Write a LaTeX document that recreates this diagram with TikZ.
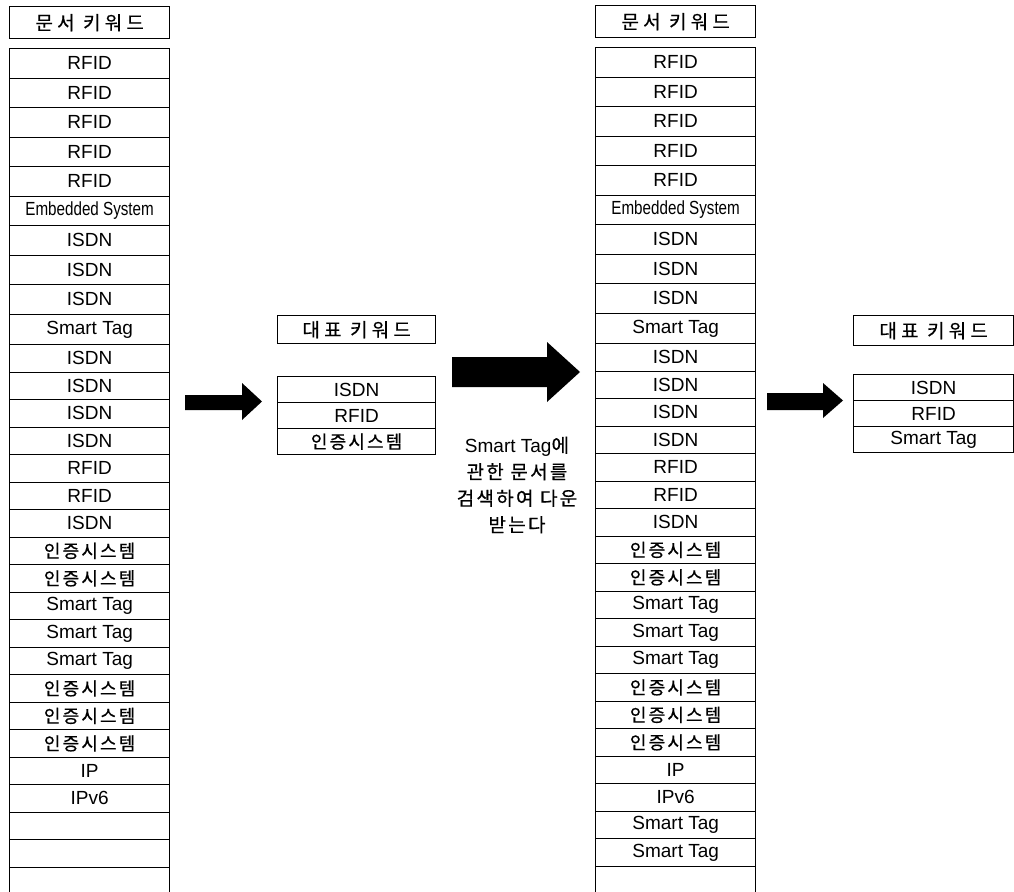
\documentclass[tikz,border=0pt]{standalone}
\usepackage{fontspec}
\setmainfont{Liberation Sans}
\newfontfamily\kr{Noto Sans CJK KR}[LetterSpace=12,FakeBold=0.6]
\newfontfamily\krwide{Noto Sans CJK KR}[LetterSpace=22,FakeBold=0.6]
\newfontfamily\narrow{Liberation Sans}[FakeStretch=0.8]
\newcommand{\ko}[1]{{\kr\fontsize{18}{18}\selectfont #1}}
\newcommand{\kh}[1]{{\krwide\fontsize{19}{19}\selectfont #1}}
\newcommand{\inj}{\ko{인증시스템}}
\newcommand{\emb}{{\narrow Embedded System}}

\begin{document}
\begin{tikzpicture}[x=1pt,y=-1pt]
  % Styles
  \tikzset{
    cell/.style={draw, line width=1.3pt, minimum width=160pt, minimum height=27.5pt,
      inner sep=0pt, anchor=north west, font=\fontsize{19}{19}\selectfont},
    head/.style={cell, minimum height=32pt},
    rep/.style={cell, minimum height=26pt},
    blk/.style={fill=black},
  }

  \useasboundingbox (0,0) rectangle (1014,891);
  \clip (0,0) rectangle (1014,891);

  % Colonne gauche : mots-cles des documents
  \node[head] (Lh) at (9,6) {\kh{문서 키워드}};
  \foreach \t [count=\i from 0] in {RFID,RFID,RFID,RFID,RFID,\emb,ISDN,ISDN,ISDN,Smart Tag,
    ISDN,ISDN,ISDN,ISDN,RFID,RFID,ISDN,\inj,\inj,Smart Tag,Smart Tag,Smart Tag,
    \inj,\inj,\inj,IP,IPv6,{},{},{}}{
    \pgfmathsetmacro\yt{\i<10 ? 48+29.5*\i : 344+27.5*(\i-10)}
    \pgfmathsetmacro\hh{\i<9 ? 29.5 : (\i==9 ? 30.5 : 27.5)}
    \node[cell, minimum height=\hh pt] (L\i) at (9,\yt) {\t};
  }

  % Premiere fleche
  \fill[blk] (185,395) -- (242,395) -- (242,383) -- (262,401.5)
    -- (242,420) -- (242,410) -- (185,410) -- cycle;

  % Mots-cles representatifs (1)
  \node[head, minimum width=158pt, minimum height=28pt] (Mh) at (277,315) {\kh{대표 키워드}};
  \foreach \t [count=\i from 0] in {ISDN,RFID,\inj}
    \node[rep, minimum width=158pt] (M\i) at (277,{376+\i*26}) {\t};

  % Grande fleche + texte
  \fill[blk] (452,357) -- (547,357) -- (547,342) -- (580,372)
    -- (547,402) -- (547,387) -- (452,387) -- cycle;
  \node[align=center, font=\fontsize{19}{26.5}\selectfont] (txt) at (517,485)
    {Smart Tag{\kr 에}\\ {\kr 관한 문서를}\\ {\kr 검색하여 다운}\\ {\kr 받는다}};

  % Colonne droite
  \node[head] (Rh) at (595,5) {\kh{문서 키워드}};
  \foreach \t [count=\i from 0] in {RFID,RFID,RFID,RFID,RFID,\emb,ISDN,ISDN,ISDN,Smart Tag,
    ISDN,ISDN,ISDN,ISDN,RFID,RFID,ISDN,\inj,\inj,Smart Tag,Smart Tag,Smart Tag,
    \inj,\inj,\inj,IP,IPv6,Smart Tag,Smart Tag,{}}{
    \pgfmathsetmacro\yt{\i<10 ? 47+29.5*\i : 343+27.5*(\i-10)}
    \pgfmathsetmacro\hh{\i<9 ? 29.5 : (\i==9 ? 30.5 : 27.5)}
    \node[cell, minimum height=\hh pt] (R\i) at (595,\yt) {\t};
  }

  % Deuxieme fleche
  \fill[blk] (767,393) -- (823,393) -- (823,383) -- (843,400.5)
    -- (823,418) -- (823,410) -- (767,410) -- cycle;

  % Mots-cles representatifs (2)
  \node[head, minimum height=30pt] (Nh) at (853,315) {\kh{대표 키워드}};
  \foreach \t [count=\i from 0] in {ISDN,RFID,Smart Tag}
    \node[rep] (N\i) at (853,{374+\i*26}) {\t};

\end{tikzpicture}
\end{document}
